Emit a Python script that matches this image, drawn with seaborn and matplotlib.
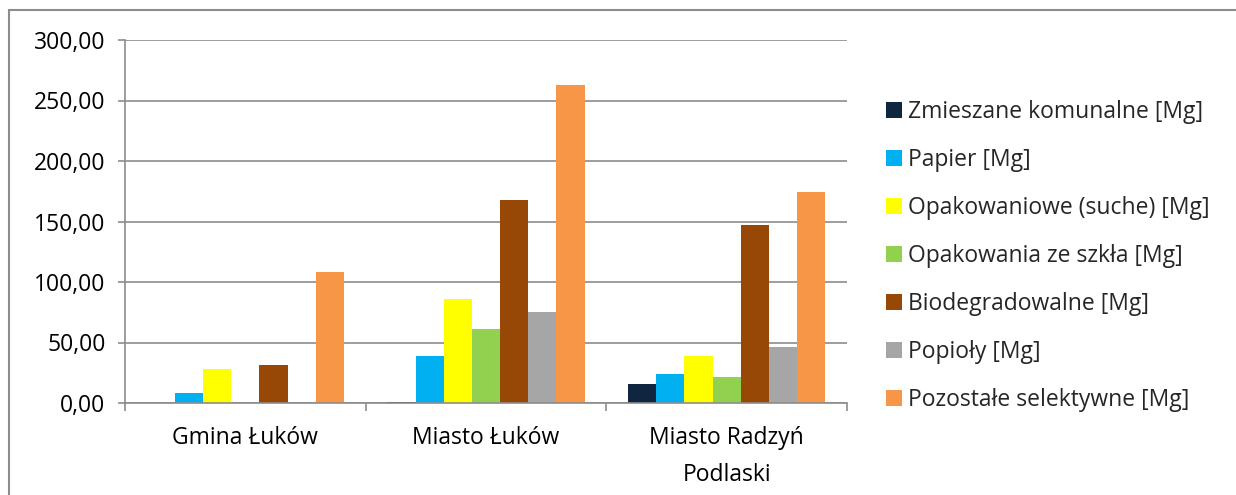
import matplotlib
matplotlib.use("Agg")
import matplotlib.pyplot as plt
import seaborn as sns
import pandas as pd
from matplotlib.patches import Rectangle, Patch

categories = ["Gmina Łuków", "Miasto Łuków", "Miasto Radzyń\nPodlaski"]
series_names = [
    "Zmieszane komunalne [Mg]",
    "Papier [Mg]",
    "Opakowaniowe (suche) [Mg]",
    "Opakowania ze szkła [Mg]",
    "Biodegradowalne [Mg]",
    "Popioły [Mg]",
    "Pozostałe selektywne [Mg]",
]
zmieszane = [0.0, 0.6, 15.3]
papier = [7.9, 38.8, 23.9]
opakowaniowe = [28.3, 85.9, 39.0]
szklo = [0.0, 61.1, 21.7]
biodegradowalne = [31.6, 167.7, 147.3]
popioly = [0.0, 75.6, 46.4]
pozostale = [107.9, 262.7, 174.5]
colors = ["#10253F", "#00B0F0", "#FFFF00", "#92D050", "#974706", "#A6A6A6", "#F79646"]
yticks = [0, 50, 100, 150, 200, 250, 300]

values = [zmieszane, papier, opakowaniowe, szklo, biodegradowalne, popioly, pozostale]
rows = []
for name, vals in zip(series_names, values):
    for cat, v in zip(categories, vals):
        rows.append({"cat": cat, "series": name, "val": v})
df = pd.DataFrame(rows)

sns.set_theme(style="white")
plt.rcParams['font.family'] = ['Open Sans', 'DejaVu Sans']

fig = plt.figure(figsize=(12.36, 4.95), dpi=100)
ax = fig.add_axes([125/1236, (495-403)/495, (847-125)/1236, (403-40)/495])

sns.barplot(data=df, x="cat", y="val", hue="series", palette=colors,
            order=categories, hue_order=series_names, width=0.82, saturation=1,
            linewidth=0, ax=ax, legend=False, errorbar=None)

grid_c = "#8C8C8C"
fs = 16.5
ax.set_ylim(0, 300)
ax.set_xlim(-0.5, 2.5)
ax.set_yticks(yticks)
ax.set_yticklabels([f"{t:.2f}".replace(".", ",") for t in yticks])
ax.yaxis.grid(True, color=grid_c, linewidth=1.2)
ax.set_axisbelow(True)
for s in ["top", "right"]:
    ax.spines[s].set_visible(False)
for s in ["left", "bottom"]:
    ax.spines[s].set_color(grid_c)
    ax.spines[s].set_linewidth(1.2)
ax.set_xlabel("")
ax.set_ylabel("")
ax.tick_params(axis="y", which="major", length=5, width=1.2, color=grid_c,
               direction="out", pad=9, labelsize=fs, labelcolor="#000000", left=True)
ax.set_xticks([0, 1, 2])
ax.set_xticklabels(categories, linespacing=1.7)
ax.tick_params(axis="x", which="major", length=0, pad=16.5, labelsize=fs, labelcolor="#000000")
ax.set_xticks([-0.5, 0.5, 1.5, 2.5], minor=True)
ax.tick_params(axis="x", which="minor", length=6, width=1.2, color=grid_c, direction="out", bottom=True)

handles = [Patch(facecolor=c, edgecolor="none") for c in colors]
fig.legend(handles, series_names, loc="upper left", bbox_to_anchor=(886/1236, 1-100/495),
           frameon=False, fontsize=fs, handlelength=0.68, handleheight=0.68,
           handletextpad=0.3, labelspacing=1.05, borderaxespad=0, borderpad=0)

fig.patches.append(Rectangle((9/1236, -0.1), 1.2, 1 - 10/495 + 0.1, transform=fig.transFigure,
                             fill=False, edgecolor="#8C8C8C", linewidth=1.5))

fig.savefig("out.png", dpi=100)
